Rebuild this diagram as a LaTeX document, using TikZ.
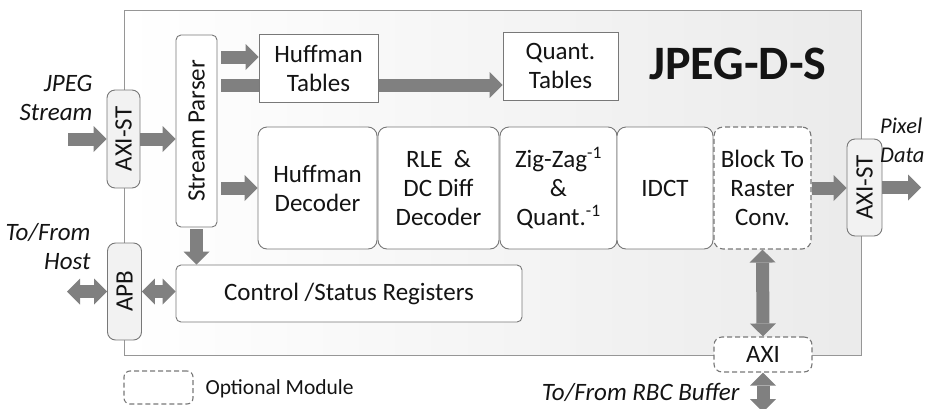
\documentclass[tikz,border=0pt]{standalone}
\usepackage{graphicx}
\usepackage{fontspec}
\setmainfont{Carlito}
\usetikzlibrary{arrows.meta}
\definecolor{linegray}{RGB}{120,120,120}
\definecolor{framegray}{RGB}{150,150,150}
\definecolor{blkgray}{RGB}{128,128,128}
\definecolor{txtgray}{RGB}{20,20,20}
\tikzset{
  unit/.style={draw=linegray, line width=0.9pt, fill=white, rounded corners=9pt, align=center, inner sep=0pt, minimum height=122pt},
  tablebox/.style={draw=linegray, line width=0.9pt, fill=white, align=center, inner sep=0pt, minimum height=68pt},
  port/.style={draw=linegray, line width=0.9pt, fill=black!5, rounded corners=8pt, inner sep=0pt},
  optional/.style={dash pattern=on 5pt off 3pt, line width=1.1pt},
  blk/.style={draw=blkgray, line width=13pt, -{Triangle[length=13pt,width=26pt,line width=0pt]}},
  blkb/.style={draw=blkgray, line width=13pt, {Triangle[length=13pt,width=26pt,line width=0pt]}-{Triangle[length=13pt,width=26pt,line width=0pt]}},
}
\begin{document}
\begin{tikzpicture}[x=1pt,y=1pt,yscale=-1,xscale=1,
  every node/.style={text=txtgray, font=\fontsize{25}{29}\selectfont}]
\useasboundingbox (0,0) rectangle (935,408);

%Shape: Rectangle [id:frame]
\shade[draw=framegray, line width=0.9pt, left color=white, right color=black!8] (124,10) rectangle (861,355);

% Text Node
\node (title) at (738,64) [font=\fontsize{48}{52}\selectfont\bfseries] {JPEG-D-S};

%Shape: Ports
\node[port, minimum width=33pt, minimum height=98pt] (axil) at (123.5,139) {\rotatebox{90}{AXI-ST}};
\node[port, minimum width=34pt, minimum height=97pt] (apb) at (124.5,291.5) {\rotatebox{90}{APB}};
\node[port, minimum width=35pt, minimum height=97pt] (axir) at (864.5,187.5) {\rotatebox{90}{AXI-ST}};
\node[port, optional, fill=white, minimum width=98pt, minimum height=35pt] (axib) at (763,354.5) {AXI};

%Shape: Stream Parser
\node[draw=linegray, line width=0.9pt, fill=white, rounded corners=5pt, inner sep=0pt, minimum width=41pt, minimum height=192pt] (parser) at (196.5,131) {\rotatebox{90}{Stream Parser}};

%Shape: Tables
\node[tablebox, minimum width=115pt] (qtab) at (560.5,66) {Quant.\\Tables};
\coordinate (row1) at (0,57);
\coordinate (row2) at (0,85);
%Straight Lines [bar behind Huffman Tables]
\draw[blk, shorten <=4pt] (parser.east |- row2) -- (qtab.west |- row2);
\node[tablebox, minimum width=119pt] (htab) at (318.5,68) {Huffman\\Tables};

%Shape: Processing units
\node[unit, minimum width=119pt] (hdec) at (317.5,188) {Huffman\\Decoder};
\node[unit, minimum width=121pt] (rle) at (438.5,188) {RLE\ \ \&\\DC Diff\\Decoder};
\node[unit, minimum width=117pt] (zz) at (558.5,188) {Zig-Zag\textsuperscript{-1}\\\&\\Quant.\textsuperscript{-1}};
\node[unit, minimum width=96pt] (idct) at (665,188) {IDCT};
\node[unit, optional, minimum width=97pt] (b2r) at (762.5,188) {Block To\\Raster\\Conv.};

%Shape: Control /Status
\node[draw=linegray, line width=0.9pt, fill=white, rounded corners=5pt, inner sep=0pt, minimum width=346pt, minimum height=57pt] (csr) at (349,293.5) {Control /Status Registers};

%Straight Lines
\coordinate (jpegin) at (68,139);
\coordinate (hostio) at (67,291.5);
\coordinate (pixout) at (921,187.5);
\coordinate (rbcio) at (763,412);
\draw[blk] (jpegin) -- (axil.west);
\draw[blk] (axil.east) -- (axil.east -| parser.west);
\draw[blk, shorten <=4pt] (parser.east |- row1) -- (htab.west |- row1);
\draw[blk, shorten <=4pt] (parser.east |- hdec) -- (hdec.west);
\draw[blk, shorten <=2pt] (parser.south) -- (parser.south |- csr.north);
\draw[blkb] (hostio) -- (apb.west);
\draw[blkb] (apb.east) -- (apb.east -| csr.west);
\draw[blk] (b2r.east) -- (b2r.east -| axir.west);
\draw[blk] (axir.east) -- (pixout);
\draw[blkb] (b2r.south) -- (axib.north);
\draw[blkb] (axib.south) -- (rbcio);

% Text Node
\node (jpeglbl) at (96,97.5) [anchor=east, align=right, font=\fontsize{25}{29}\selectfont\itshape] {JPEG\\Stream};
% Text Node
\node (hostlbl) at (94,247) [anchor=east, align=right, font=\fontsize{25}{29}\selectfont\itshape] {To/From\\Host};
% Text Node
\node (pixlbl) at (880,140) [anchor=west, align=left, inner sep=0pt, font=\fontsize{22.5}{29}\selectfont\itshape] {Pixel\\Data};
% Text Node
\node (rbclbl) at (743,392) [anchor=east, font=\fontsize{25}{29}\selectfont\itshape] {To/From RBC Buffer};

%Shape: Legend
\node[draw=linegray, optional, rounded corners=6pt, minimum width=69pt, minimum height=33pt] (legbox) at (158.5,387.5) {};
% Text Node
\node (leglbl) at (202,389) [anchor=west, font=\fontsize{21.5}{26}\selectfont] {Optional Module};

\end{tikzpicture}
\end{document}
